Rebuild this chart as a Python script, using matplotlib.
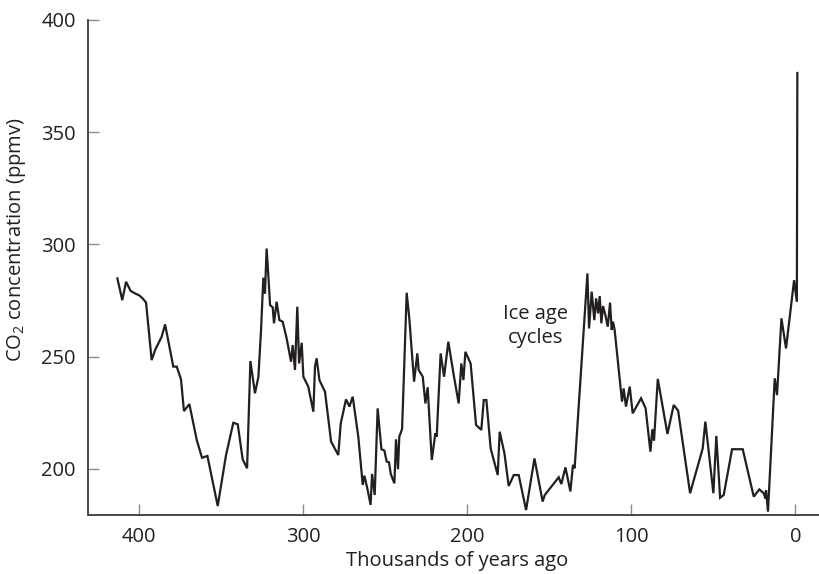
import matplotlib
matplotlib.use("Agg")
import matplotlib.pyplot as plt

plt.rcParams['font.family'] = ['Open Sans', 'DejaVu Sans']
plt.rcParams['mathtext.fontset'] = 'custom'
plt.rcParams['mathtext.rm'] = 'Open Sans'
plt.rcParams['mathtext.it'] = 'Open Sans'
plt.rcParams['mathtext.bf'] = 'Open Sans'

# Thousands of years ago
age_kyr = [
    413.4, 410.4, 408.1, 405.3, 402.6, 400.0, 398.0, 395.9, 392.5, 390.4,
    386.4, 384.3, 379.3, 377.2, 374.6, 372.8, 369.5, 365.0, 361.8, 358.5,
    352.2, 347.2, 342.7, 340.0, 337.0, 334.3, 332.3, 329.5, 327.4, 325.8,
    324.4, 323.4, 322.4, 321.3, 320.3, 318.7, 317.9, 316.3, 314.6, 312.6,
    310.2, 307.5, 306.5, 305.1, 303.7, 302.6, 301.0, 300.0, 297.0, 293.9,
    292.9, 291.9, 290.2, 286.8, 283.1, 278.7, 277.2, 274.0, 271.9, 269.9,
    266.5, 263.8, 262.8, 261.0, 259.0, 258.1, 256.5, 254.7, 252.4, 250.6,
    249.2, 247.8, 246.7, 244.5, 243.5, 242.3, 241.5, 239.8, 237.0, 235.4,
    232.5, 231.3, 230.5, 229.7, 227.2, 225.6, 224.2, 221.7, 219.5, 218.7,
    216.3, 214.2, 211.6, 208.5, 205.3, 203.7, 202.4, 201.2, 198.0, 194.7,
    191.5, 190.0, 188.4, 185.8, 181.5, 180.3, 177.4, 174.8, 171.7, 168.7,
    164.2, 159.1, 154.1, 152.8, 144.3, 142.7, 140.2, 137.2, 135.6, 134.6,
    126.8, 125.8, 124.2, 122.6, 121.5, 120.3, 119.3, 118.3, 117.3, 115.7,
    114.4, 113.0, 112.0, 111.2, 110.2, 105.7, 104.7, 103.3, 101.0, 99.2,
    94.1, 91.3, 88.4, 87.2, 86.2, 83.9, 78.0, 74.2, 71.5, 64.2,
    56.5, 54.9, 50.0, 48.2, 45.9, 43.7, 38.6, 32.1, 25.4, 22.0,
    19.3, 18.3, 17.9, 16.7, 12.6, 11.2, 8.5, 5.7, 0.8, -0.9,
    -1.2,
]
# CO2 concentration (ppmv)
co2_ppmv = [
    284.9, 275.2, 283.4, 279.3, 278.2, 277.3, 276.0, 274.1, 248.5, 253.0,
    258.9, 264.4, 245.6, 245.6, 239.9, 225.8, 228.9, 212.9, 205.0, 205.8,
    183.5, 206.0, 220.6, 219.9, 204.3, 200.3, 248.1, 233.7, 241.1, 261.9,
    285.2, 278.2, 298.2, 285.6, 273.0, 272.0, 264.9, 274.5, 266.3, 265.6,
    258.2, 247.8, 255.2, 244.1, 272.3, 247.0, 256.2, 241.1, 236.7, 225.5,
    245.6, 249.3, 239.6, 234.4, 212.2, 206.2, 220.3, 231.0, 227.8, 232.2,
    214.4, 192.9, 197.0, 191.4, 184.0, 197.8, 188.4, 227.0, 208.8, 208.2,
    203.3, 203.0, 197.8, 193.6, 213.2, 199.9, 214.4, 217.8, 278.5, 267.1,
    238.9, 246.3, 251.5, 244.1, 241.1, 229.2, 236.4, 204.0, 215.9, 214.4,
    251.5, 241.1, 256.7, 242.6, 229.2, 247.0, 239.6, 252.2, 247.0, 219.6,
    217.4, 230.7, 230.7, 209.2, 197.3, 216.6, 207.0, 192.4, 197.3, 197.3,
    181.7, 204.7, 185.5, 188.4, 196.3, 193.3, 200.7, 190.0, 201.8, 200.3,
    287.1, 262.6, 279.0, 266.3, 276.0, 269.3, 277.0, 264.9, 272.6, 268.1,
    263.4, 274.1, 261.9, 265.6, 261.9, 230.0, 235.9, 227.8, 236.7, 224.8,
    231.5, 227.0, 207.7, 217.7, 212.6, 240.1, 215.6, 228.5, 226.0, 189.2,
    209.2, 221.1, 189.2, 214.7, 187.2, 188.4, 208.8, 208.8, 187.7, 190.9,
    189.2, 186.9, 190.6, 181.0, 240.4, 232.9, 267.1, 253.7, 284.1, 274.5,
    376.4,
]

x_ticks = [400, 300, 200, 100, 0]
y_ticks = [200, 250, 300, 350, 400]

W, H = 820, 574
fig = plt.figure(figsize=(W / 100, H / 100), dpi=100)
ax = fig.add_axes([88.5 / W, (H - 515) / H, (819 - 88.5) / W, (515 - 20) / H])

ax.plot(age_kyr, co2_ppmv, color='#231f20', lw=1.6, solid_joinstyle='miter')

ax.set_xlim(431, -14.4)
ax.set_ylim(179.5, 400)
ax.set_xticks(x_ticks)
ax.set_yticks(y_ticks)

for s in ['top', 'right']:
    ax.spines[s].set_visible(False)
for s in ['left', 'bottom']:
    ax.spines[s].set_color('#3a3a3a')
    ax.spines[s].set_linewidth(1.3)

ax.tick_params(axis='both', direction='in', length=8, width=1.0,
               color='#8a8a8a', labelsize=14.5, labelcolor='#231f20')
ax.tick_params(axis='y', pad=9)
ax.tick_params(axis='x', pad=9)

ax.set_xlabel('Thousands of years ago', fontsize=14.5, color='#231f20')
ax.xaxis.label.set_va('center')
ax.xaxis.set_label_coords(0.504, -0.093)

ax.set_ylabel('CO$_2$ concentration (ppmv)', fontsize=14.5, color='#231f20')
ax.yaxis.label.set_va('center')
ax.yaxis.set_label_coords(-0.0979, 0.556)

ax.text(158.4, 263.7, 'Ice age\ncycles', ha='center', va='center',
        fontsize=14.5, color='#231f20', linespacing=1.25)

fig.savefig('out.png', dpi=100)
